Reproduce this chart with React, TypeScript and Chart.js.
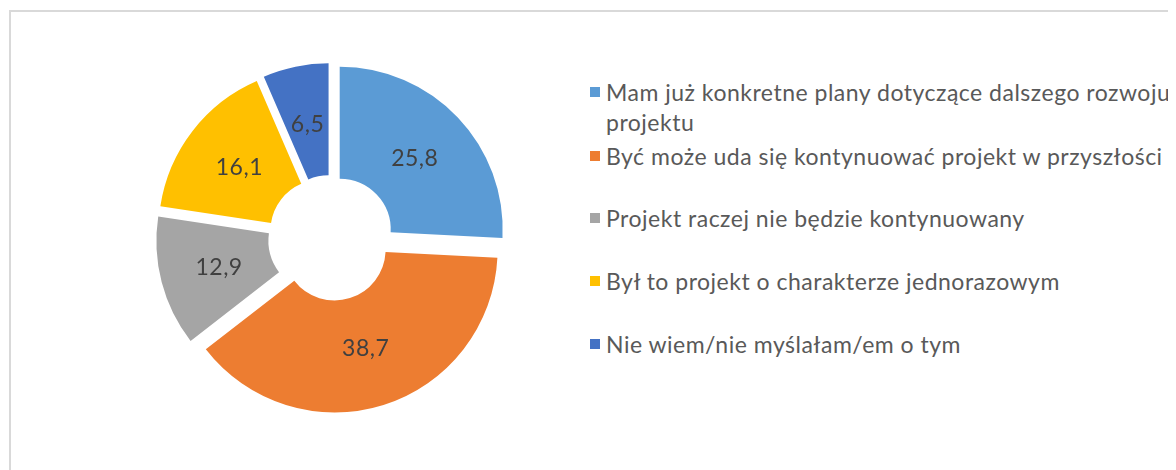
import React, { useEffect, useRef } from 'react';
import { Chart, registerables } from 'chart.js';

Chart.register(...registerables);

const categories = [
  'Mam już konkretne plany dotyczące dalszego rozwoju projektu',
  'Być może uda się kontynuować projekt w przyszłości',
  'Projekt raczej nie będzie kontynuowany',
  'Był to projekt o charakterze jednorazowym',
  'Nie wiem/nie myślałam/em o tym',
];
const values = [25.8, 38.7, 12.9, 16.1, 6.5];
const valueLabels = ['25,8', '38,7', '12,9', '16,1', '6,5'];
const colors = ['#5B9BD5', '#ED7D31', '#A5A5A5', '#FFC000', '#4472C4'];
// legend line breaks (first entry wraps in the original)
const legendLines = [
  ['Mam już konkretne plany dotyczące dalszego rozwoju', 'projektu'],
  ['Być może uda się kontynuować projekt w przyszłości'],
  ['Projekt raczej nie będzie kontynuowany'],
  ['Był to projekt o charakterze jednorazowym'],
  ['Nie wiem/nie myślałam/em o tym'],
];
const legendCenters = [84, 148, 210, 273, 336]; // container coords (page - 8)

const EXPLODE = 12;
const OUTER = 163;
const FONT = 'Lato, "Noto Sans", sans-serif';

const explodePlugin = {
  id: 'explode',
  beforeDatasetsDraw(chart: any) {
    chart.getDatasetMeta(0).data.forEach((arc: any) => {
      if (arc.__exploded) return;
      arc.__exploded = true;
      const orig = arc.draw;
      arc.draw = function (ctx: CanvasRenderingContext2D, area: any) {
        const mid = (this.startAngle + this.endAngle) / 2;
        ctx.save();
        ctx.translate(Math.cos(mid) * EXPLODE, Math.sin(mid) * EXPLODE);
        orig.call(this, ctx, area);
        ctx.restore();
      };
    });
  },
  afterDatasetsDraw(chart: any) {
    const ctx: any = chart.ctx;
    ctx.save();
    ctx.font = `23px ${FONT}`;
    try {
      ctx.letterSpacing = '0.5px';
    } catch (e) {}
    ctx.fillStyle = '#404040';
    ctx.textAlign = 'center';
    ctx.textBaseline = 'middle';
    chart.getDatasetMeta(0).data.forEach((arc: any, i: number) => {
      const mid = (arc.startAngle + arc.endAngle) / 2;
      const r = arc.innerRadius + (arc.outerRadius - arc.innerRadius) * 0.47 + EXPLODE;
      ctx.fillText(valueLabels[i], arc.x + Math.cos(mid) * r, arc.y + Math.sin(mid) * r);
    });
    ctx.restore();
  },
};

export default function App() {
  const ref = useRef<HTMLCanvasElement>(null);
  useEffect(() => {
    if (!ref.current) return;
    const chart = new Chart(ref.current, {
      type: 'doughnut',
      data: {
        labels: categories,
        datasets: [
          {
            data: values,
            backgroundColor: colors,
            borderWidth: 0,
            offset: 0,
            hoverOffset: 0,
          },
        ],
      },
      options: {
        animation: false,
        responsive: false,
        maintainAspectRatio: false,
        radius: OUTER,
        cutout: '31.3%',
        layout: { padding: 0 },
        events: [],
        plugins: {
          legend: { display: false },
          tooltip: { enabled: false },
        },
      } as any,
      plugins: [explodePlugin],
    });
    return () => chart.destroy();
  }, []);

  return (
    <div
      style={{
        position: 'relative',
        width: 1168,
        height: 462,
        overflow: 'hidden',
        background: '#ffffff',
        fontFamily: FONT,
      }}
    >
      <div
        style={{
          position: 'absolute',
          left: 1,
          top: 2,
          width: 3000,
          height: 3000,
          borderTop: '2px solid #D9D9D9',
          borderLeft: '2px solid #D9D9D9',
        }}
      />
      <canvas
        ref={ref}
        width={360}
        height={360}
        style={{ position: 'absolute', left: 143, top: 50, width: 360, height: 360 }}
      />
      {legendLines.map((lines, i) => (
        <div key={i} style={{ position: 'absolute', left: 582, top: legendCenters[i] - 15 }}>
          <div
            style={{
              position: 'absolute',
              left: 0,
              top: 10,
              width: 10,
              height: 10,
              background: colors[i],
            }}
          />
          <div
            style={{
              position: 'absolute',
              left: 16,
              top: 0,
              whiteSpace: 'nowrap',
              fontSize: 23,
              letterSpacing: '0.5px',
              lineHeight: '30px',
              color: '#595959',
            }}
          >
            {lines.map((l, j) => (
              <div key={j}>{l}</div>
            ))}
          </div>
        </div>
      ))}
    </div>
  );
}
